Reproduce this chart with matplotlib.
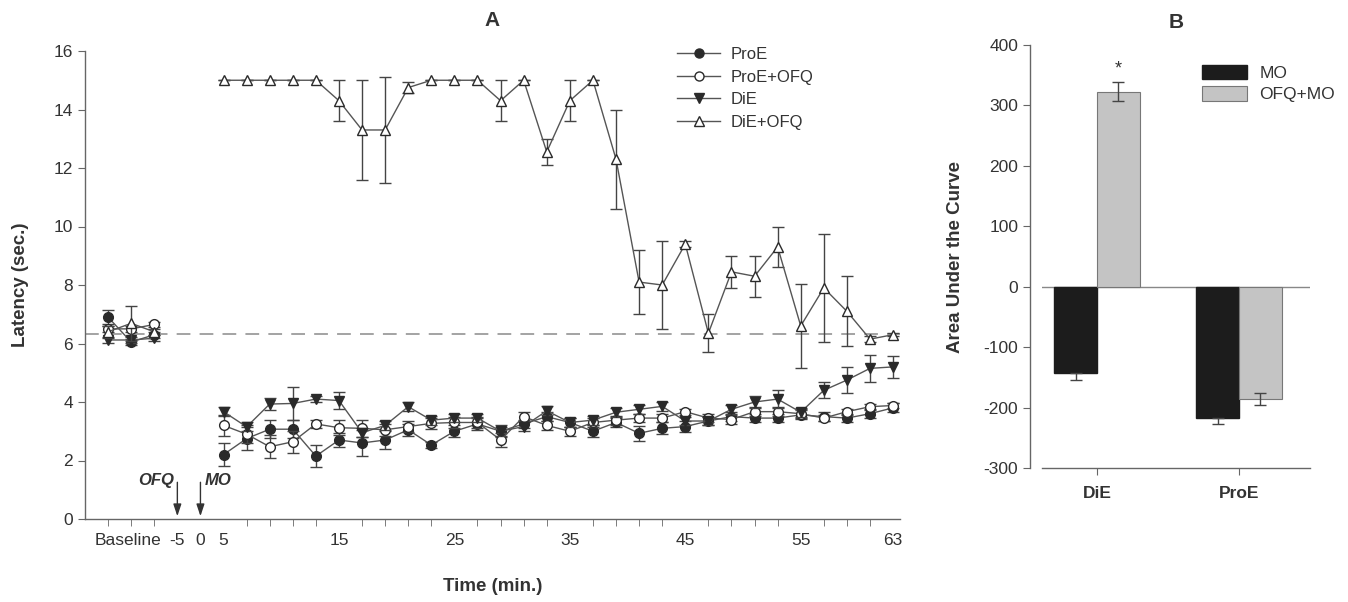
import matplotlib
matplotlib.use("Agg")
import matplotlib.pyplot as plt
from matplotlib.lines import Line2D
import numpy as np

plt.rcParams['font.family'] = ['Liberation Sans', 'DejaVu Sans']
plt.rcParams['axes.unicode_minus'] = False

# ---------------- Panel A data ----------------
times = [5, 7, 9, 11, 13, 15, 17, 19, 21, 23, 25, 27, 29, 31, 33, 35, 37, 39,
         41, 43, 45, 47, 49, 51, 53, 55, 57, 59, 61, 63]

base_proe = [6.9, 6.05, 6.3]
base_proe_err = [0.25, 0.1, 0.1]
base_proe_ofq = [6.5, 6.5, 6.65]
base_proe_ofq_err = [0.1, 0.1, 0.1]
base_die = [6.12, 6.12, 6.18]
base_die_err = [0.1, 0.1, 0.1]
base_die_ofq = [6.4, 6.69, 6.4]
base_die_ofq_err = [0.2, 0.6, 0.1]

proe = [2.2, 2.75, 3.07, 3.07, 2.15, 2.7, 2.6, 2.7, 3.05, 2.53, 3.0, 3.25, 3.0, 3.25,
        3.5, 3.3, 3.0, 3.3, 2.93, 3.1, 3.16, 3.35, 3.5, 3.45, 3.45, 3.56, 3.5, 3.45, 3.6, 3.8]
proe_err = [0.4, 0.4, 0.3, 0.3, 0.38, 0.25, 0.45, 0.3, 0.2, 0.1, 0.2, 0.2, 0.2, 0.15,
            0.15, 0.15, 0.2, 0.15, 0.25, 0.2, 0.2, 0.15, 0.15, 0.15, 0.15, 0.15, 0.15, 0.15, 0.15, 0.15]
proe_ofq = [3.2, 2.9, 2.47, 2.64, 3.25, 3.12, 3.1, 3.05, 3.16, 3.27, 3.3, 3.3, 2.7, 3.5,
            3.2, 3.0, 3.3, 3.38, 3.45, 3.45, 3.67, 3.45, 3.4, 3.67, 3.67, 3.6, 3.45, 3.67, 3.84, 3.88]
proe_ofq_err = [0.35, 0.3, 0.4, 0.37, 0.15, 0.25, 0.3, 0.2, 0.2, 0.2, 0.2, 0.2, 0.25, 0.15,
                0.15, 0.15, 0.15, 0.15, 0.15, 0.15, 0.1, 0.15, 0.15, 0.15, 0.15, 0.15, 0.1, 0.1, 0.1, 0.1]
die = [3.67, 3.15, 3.93, 3.95, 4.1, 4.05, 2.95, 3.2, 3.84, 3.38, 3.45, 3.45, 3.0, 3.16,
       3.7, 3.3, 3.38, 3.65, 3.75, 3.85, 3.35, 3.35, 3.75, 4.0, 4.1, 3.65, 4.4, 4.75, 5.15, 5.2]
die_err = [0.15, 0.15, 0.2, 0.55, 0.1, 0.3, 0.15, 0.15, 0.15, 0.15, 0.15, 0.15, 0.15, 0.15,
           0.15, 0.15, 0.15, 0.15, 0.15, 0.15, 0.15, 0.15, 0.15, 0.2, 0.3, 0.15, 0.27, 0.45, 0.47, 0.38]
die_ofq = [15, 15, 15, 15, 15, 14.3, 13.3, 13.3, 14.75, 15, 15, 15, 14.3, 15, 12.55, 14.3,
           15, 12.3, 8.1, 8.0, 9.4, 6.35, 8.45, 8.3, 9.3, 6.6, 7.9, 7.1, 6.15, 6.3]
die_ofq_err = [0, 0, 0, 0, 0, 0.7, 1.7, 1.8, 0.2, 0, 0, 0, 0.7, 0, 0.45, 0.7, 0, 1.7,
               1.1, 1.5, 0.1, 0.65, 0.55, 0.7, 0.7, 1.45, 1.85, 1.2, 0.1, 0.05]

baseline_mean = 6.32
xtick_labels = ["Baseline", "-5", "0", "5", "15", "25", "35", "45", "55", "63"]

# ---------------- Panel B data ----------------
groups = ["DiE", "ProE"]
mo = [-142, -216]
mo_err = [12, 10]
ofq_mo = [323, -185]
ofq_mo_err = [16, 10]

# ---------------- Figure ----------------
fig = plt.figure(figsize=(13.48, 6.02), dpi=100)
txt = '#333333'
spine_c = '#666666'
line_c = '#2a2a2a'

axA = fig.add_axes([85/1348, 1-519/602, 815/1348, (519-51)/602])

def pos(t):
    return 6 + (t - 5) / 2.0

xp = [pos(t) for t in times]
bx = [1, 2, 3]

series = [
    (base_proe, base_proe_err, proe, proe_err, 'o', line_c, 'ProE', 7),
    (base_proe_ofq, base_proe_ofq_err, proe_ofq, proe_ofq_err, 'o', 'white', 'ProE+OFQ', 7),
    (base_die, base_die_err, die, die_err, 'v', line_c, 'DiE', 7.5),
    (base_die_ofq, base_die_ofq_err, die_ofq, die_ofq_err, '^', 'white', 'DiE+OFQ', 7.5),
]

axA.axhline(baseline_mean, color='#8a8a8a', lw=1.1, dashes=(9, 6), zorder=1)

handles = []
for i, (bv, be, v, e, m, fc, lab, ms) in enumerate(series):
    z = 3 + i
    kw = dict(marker=m, ms=ms, mfc=fc, mec=line_c, mew=1.0, color='#555555', lw=1.0,
              ecolor='#444444', elinewidth=1.0, capsize=4.5, capthick=1.0, zorder=z)
    axA.errorbar(bx, bv, yerr=be, **kw)
    axA.errorbar(xp, v, yerr=e, **kw)
    handles.append(Line2D([], [], marker=m, ms=ms - 0.5, mfc=fc, mec=line_c, mew=1.0,
                          color='#555555', lw=1.0, label=lab))

axA.set_xlim(0, 35.3)
axA.set_ylim(0, 16)
axA.set_yticks(np.arange(0, 17, 2))
axA.set_xticks(np.arange(1, 36, 1), minor=True)
axA.set_xticks([1.85, 4, 5, 6, 11, 16, 21, 26, 31, 35])
axA.set_xticklabels(xtick_labels)
for lbl in axA.get_xticklabels():
    if lbl.get_text() == "Baseline":
        lbl.set_fontsize(8.5)
axA.tick_params(axis='x', which='major', length=0, pad=10, labelsize=12.5, colors=txt)
axA.tick_params(axis='x', which='minor', length=5, direction='out', color=spine_c)
axA.tick_params(axis='y', length=5, direction='out', labelsize=12.5, colors=txt, color=spine_c)
for s in ['top', 'right']:
    axA.spines[s].set_visible(False)
for s in ['left', 'bottom']:
    axA.spines[s].set_color(spine_c)
    axA.spines[s].set_linewidth(1.0)

axA.set_ylabel("Latency (sec.)", fontsize=13.5, fontweight='bold', color=txt, labelpad=18)
axA.set_xlabel("Time (min.)", fontsize=13.5, fontweight='bold', color=txt, labelpad=22)
axA.set_title("A", fontsize=15, fontweight='bold', color=txt, pad=18)

# arrows
axA.annotate("", xy=(4, 0), xytext=(4, 1.35),
             arrowprops=dict(arrowstyle='-|>,head_length=0.6,head_width=0.2',
                             color='#333333', lw=1.0, mutation_scale=12))
axA.annotate("", xy=(5, 0), xytext=(5, 1.35),
             arrowprops=dict(arrowstyle='-|>,head_length=0.6,head_width=0.2',
                             color='#333333', lw=1.0, mutation_scale=12))
axA.text(3.85, 1.3, "OFQ", ha='right', va='center', fontsize=12, fontweight='bold',
         fontstyle='italic', color=txt)
axA.text(5.2, 1.3, "MO", ha='left', va='center', fontsize=12, fontweight='bold',
         fontstyle='italic', color=txt)

legA = axA.legend(handles=handles, loc='upper left', bbox_to_anchor=(0.708, 1.04),
                  frameon=False, fontsize=12, handlelength=2.6, labelspacing=0.45,
                  handletextpad=0.6)
for t in legA.get_texts():
    t.set_color(txt)

# ---------------- Panel B ----------------
axB = fig.add_axes([1041.7/1348, 1-468.3/602, (1310-1041.7)/1348, (468.3-45)/602])
xg = np.arange(len(groups))
w = 0.3
axB.bar(xg - w/2, mo, w, color='#1c1c1c', edgecolor='#1c1c1c', label='MO', zorder=2)
axB.bar(xg + w/2, ofq_mo, w, color='#c4c4c4', edgecolor='#777777', lw=0.8,
        label='OFQ+MO', zorder=2)
axB.errorbar(xg - w/2, mo, yerr=[[mo_err[0], mo_err[1]], [0, 0]], fmt='none',
             ecolor='#444444', elinewidth=1.0, capsize=4.5, zorder=3)
axB.errorbar(xg + w/2, ofq_mo, yerr=ofq_mo_err, fmt='none',
             ecolor='#444444', elinewidth=1.0, capsize=4.5, zorder=3)
axB.text(xg[0] + w/2, ofq_mo[0] + ofq_mo_err[0] + 8, "*", ha='center', va='bottom',
         fontsize=13, color=txt)
axB.axhline(0, color='#888888', lw=1.0, zorder=1)

axB.set_xlim(-0.39, 1.5)
axB.set_ylim(-300, 400)
axB.set_yticks(np.arange(-300, 401, 100))
axB.set_xticks(xg)
axB.set_xticklabels(groups, fontweight='bold')
axB.tick_params(axis='x', length=5, direction='out', labelsize=12.5, colors=txt,
                color=spine_c, pad=8)
axB.tick_params(axis='y', length=5, direction='out', labelsize=12.5, colors=txt, color=spine_c)
for s in ['top', 'right']:
    axB.spines[s].set_visible(False)
for s in ['left', 'bottom']:
    axB.spines[s].set_color(spine_c)
    axB.spines[s].set_linewidth(1.0)
axB.spines['left'].set_position(('outward', 8.4))
axB.set_ylabel("Area Under the Curve", fontsize=13.5, fontweight='bold', color=txt, labelpad=14)
axB.set_title("B", fontsize=15, fontweight='bold', color=txt, pad=12)

legB = axB.legend(loc='upper left', bbox_to_anchor=(0.54, 0.99), frameon=False,
                  fontsize=12.5, handlelength=2.6, handleheight=0.9, labelspacing=0.3,
                  handletextpad=0.7)
for t in legB.get_texts():
    t.set_color(txt)

fig.savefig("out.png", dpi=100)
